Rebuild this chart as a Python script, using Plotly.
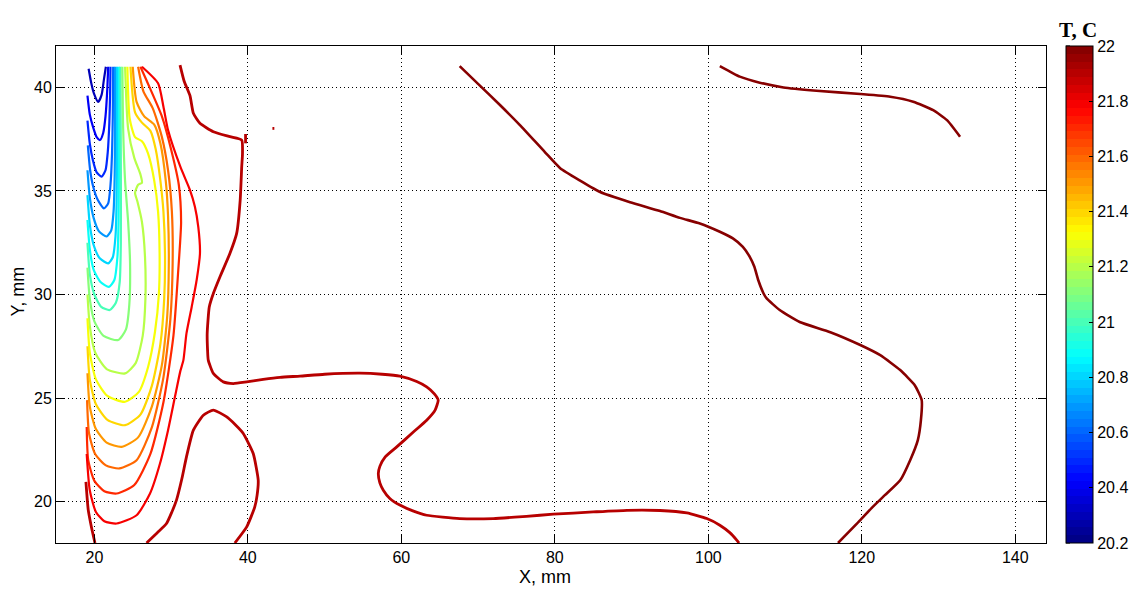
import plotly.graph_objects as go

# ---------------- data ----------------
CMIN, CMAX = 20.2, 22.0
cbar_ticks = [20.2, 20.4, 20.6, 20.8, 21.0, 21.2, 21.4, 21.6, 21.8, 22.0]
x_ticks = [20, 40, 60, 80, 100, 120, 140]
y_ticks = [20, 25, 30, 35, 40]

# isotherm levels (deg C) for the U-shaped contours around the cold spot
u_levels = [20.3, 20.4, 20.5, 20.6, 20.7, 20.8, 20.9, 21.0, 21.1, 21.2, 21.3, 21.4, 21.5, 21.6, 21.7, 21.8]

u01_x = [19.25, 19.6, 19.95, 20.5, 20.95, 21.25, 21.5]
u01_y = [40.9, 40.2, 39.7, 39.3, 39.65, 40.4, 41.0]
u02_x = [19.1, 19.4, 19.86, 20.3, 20.73, 21.15, 21.45, 21.68, 21.8]
u02_y = [39.6, 38.7, 38.05, 37.6, 37.46, 37.8, 38.6, 39.9, 41.0]
u03_x = [19.1, 19.4, 19.8, 20.3, 20.95, 21.45, 21.75, 21.95, 22.05, 22.1]
u03_y = [38.4, 37.3, 36.5, 35.9, 35.69, 36.0, 36.9, 38.3, 39.7, 41.0]
u04_x = [19.15, 19.45, 19.85, 20.4, 21.25, 21.8, 22.1, 22.3, 22.4, 22.45]
u04_y = [37.2, 36.0, 35.2, 34.6, 34.16, 34.4, 35.3, 36.8, 38.6, 41.0]
u05_x = [19.1, 19.4, 19.9, 20.6, 21.6, 22.2, 22.5, 22.65, 22.7, 22.7]
u05_y = [36.0, 34.7, 33.7, 33.05, 32.8, 33.1, 34.0, 35.8, 38.0, 41.0]
u06_x = [19.1, 19.4, 19.9, 20.7, 21.8, 22.4, 22.75, 22.9, 22.95, 22.95]
u06_y = [34.8, 33.4, 32.4, 31.75, 31.5, 31.8, 32.8, 34.5, 37.0, 41.0]
u07_x = [19.1, 19.4, 19.9, 20.8, 21.9, 22.6, 23.0, 23.15, 23.2, 23.2]
u07_y = [33.6, 32.2, 31.2, 30.6, 30.37, 30.7, 31.8, 33.5, 36.5, 41.0]
u08_x = [19.1, 19.4, 20.0, 20.9, 22.0, 22.8, 23.3, 23.45, 23.45, 23.4]
u08_y = [32.5, 31.0, 30.0, 29.4, 29.25, 29.6, 30.6, 32.5, 36.0, 41.0]
u09_x = [19.1, 19.4, 20.0, 21.2, 23.1, 24.1, 24.55, 24.65, 24.4, 24.0, 23.75, 23.65]
u09_y = [31.3, 29.8, 28.7, 28.0, 27.8, 28.3, 29.5, 31.5, 33.5, 35.5, 38.0, 41.0]
u10_x = [19.1, 19.4, 20.1, 21.6, 24.0, 25.4, 26.3, 26.65, 26.6, 26.2, 25.6, 25.3, 25.7, 26.2, 26.0, 25.2, 24.4, 24.0]
u10_y = [30.0, 28.5, 27.2, 26.4, 26.19, 26.7, 28.0, 29.8, 31.8, 33.5, 34.5, 34.9, 35.3, 35.4, 35.8, 36.6, 38.0, 41.0]
u11_x = [19.1, 19.4, 20.2, 21.7, 24.0, 25.8, 27.0, 27.9, 28.4, 28.5, 28.3, 27.8, 27.0, 26.2, 25.3, 24.6, 24.3]
u11_y = [28.85, 27.2, 25.9, 25.1, 24.82, 25.3, 26.5, 28.2, 30.0, 32.0, 34.0, 35.5, 36.8, 37.4, 37.6, 38.5, 41.0]
u12_x = [19.1, 19.4, 20.2, 21.7, 24.0, 26.0, 27.5, 28.6, 29.1, 29.2, 29.0, 28.6, 28.0, 27.3, 26.2, 25.3, 24.7]
u12_y = [27.5, 25.9, 24.7, 23.95, 23.69, 24.2, 25.6, 27.6, 29.8, 32.0, 34.0, 35.5, 37.0, 37.9, 38.3, 38.8, 41.0]
u13_x = [19.1, 19.4, 20.2, 21.6, 23.56, 25.7, 27.5, 28.8, 29.5, 29.7, 29.6, 29.3, 28.6, 27.8, 26.5, 25.5, 25.0]
u13_y = [26.2, 24.6, 23.5, 22.85, 22.64, 23.1, 24.6, 26.6, 29.0, 31.5, 33.8, 35.5, 37.3, 38.2, 38.6, 39.3, 41.0]
u14_x = [19.05, 19.3, 20.1, 21.5, 23.25, 25.5, 27.5, 29.0, 29.9, 30.2, 30.1, 29.6, 28.8, 27.6, 26.4, 25.7]
u14_y = [24.9, 23.3, 22.3, 21.75, 21.6, 22.0, 23.6, 26.0, 28.8, 31.5, 34.0, 36.0, 37.6, 39.0, 39.8, 41.0]
u15_x = [19.0, 19.2, 20.0, 21.3, 22.9, 25.2, 27.3, 29.0, 30.3, 30.9, 31.3, 31.0, 30.0, 28.8, 27.2, 26.0]
u15_y = [23.6, 22.0, 21.0, 20.5, 20.39, 20.8, 22.3, 24.8, 28.0, 31.0, 33.5, 35.3, 37.0, 38.6, 40.0, 41.0]
u16_x = [19.0, 19.4, 20.2, 21.3, 22.9, 25.5, 27.25, 28.55, 29.6, 30.5, 31.2, 31.6, 32.0, 32.68, 33.33,
         33.76, 33.54, 33.1, 32.46, 31.2, 29.6, 29.0, 28.3, 26.2]
u16_y = [22.3, 20.55, 19.5, 19.05, 18.94, 19.34, 20.39, 21.84, 23.45, 25.06, 26.3, 26.83, 28.12, 29.4, 30.7,
         31.99, 33.27, 34.24, 35.04, 36.17, 37.94, 39.07, 40.2, 41.0]

# 21.9 C isotherm pieces
dr_left_x = [18.9, 19.2, 19.6, 20.08]
dr_left_y = [20.95, 19.6, 18.8, 18.0]
dr_bump_x = [26.8, 28.2, 29.4, 30.1, 30.7, 31.4, 32.0, 32.9, 34.2, 35.5, 37.2, 38.4, 39.4, 40.7, 41.35, 41.2, 40.9, 39.85, 38.3]
dr_bump_y = [18.0, 18.5, 18.94, 19.5, 20.07, 21.1, 22.16, 23.45, 24.17, 24.42, 24.1, 23.7, 23.29, 22.32, 21.03, 20.3, 19.74, 18.78, 18.0]
dr_big_x = [31.16, 31.7, 32.46, 32.9, 33.76, 35.5, 37.67, 39.2, 39.3, 39.2, 39.0, 38.54, 37.67, 36.37, 35.5, 34.97,
            34.7, 34.75, 34.84, 35.5, 36.8, 38.1, 39.85, 42.0, 44.2, 46.8, 50.0, 54.6, 57.5, 59.8, 62.0, 63.3, 64.3,
            64.8, 64.4, 63.3, 61.6, 59.4, 57.9, 57.2, 57.0, 57.2, 57.65, 58.5, 59.8, 61.5, 63.3, 67.6, 72.0, 76.3,
            79.8, 85.0, 89.4, 93.7, 97.2, 99.8, 101.5, 102.8, 103.7, 104.0]
dr_big_y = [41.08, 40.3, 39.6, 38.75, 38.27, 37.86, 37.62, 37.46, 36.8, 36.17, 34.56, 32.95, 31.99, 30.86, 30.05, 29.4,
            28.12, 27.3, 26.83, 26.19, 25.78, 25.7, 25.78, 25.9, 26.0, 26.06, 26.15, 26.2, 26.15, 26.06, 25.8, 25.54, 25.2,
            24.9, 24.42, 23.93, 23.37, 22.64, 22.16, 21.7, 21.36, 20.9, 20.55, 20.15, 19.83, 19.55, 19.34, 19.18, 19.18, 19.29,
            19.39, 19.5, 19.58, 19.57, 19.45, 19.18, 18.86, 18.5, 18.14, 18.0]
dr_tick_x = [39.7, 39.7]
dr_tick_y = [37.3, 37.75]
dr_dot_x = [43.2, 43.45]
dr_dot_y = [38.02, 38.02]

# 22.0 C isotherm pieces (right part of the field)
r1_x = [67.6, 70.2, 72.85, 75.45, 78.7, 80.7, 83.3, 85.9, 89.8, 93.7, 96.3, 98.9, 101.5, 103.2, 104.5, 105.4, 106.0,
        106.5, 107.2, 107.6, 109.3, 111.9, 115.9, 119.8, 122.4, 125.0, 126.9, 127.8, 127.7, 127.3, 126.3, 125.0, 123.0,
        121.3, 119.8, 116.9]
r1_y = [41.03, 40.1, 39.15, 38.18, 36.88, 36.1, 35.5, 34.95, 34.46, 34.03, 33.7, 33.43, 33.03, 32.71, 32.3, 31.82, 31.34,
        30.7, 30.05, 29.81, 29.25, 28.67, 28.18, 27.56, 27.07, 26.35, 25.62, 24.9, 23.93, 22.97, 22.0, 21.03, 20.31,
        19.7, 19.1, 18.0]
r2_x = [101.5, 104.1, 106.7, 109.8, 114.1, 119.8, 123.7, 126.7, 129.3, 131.1, 132.8]
r2_y = [41.03, 40.52, 40.23, 40.0, 39.84, 39.68, 39.55, 39.31, 38.9, 38.42, 37.62]

# ---------------- styling helpers ----------------
NCOL = 64
FONT = "Liberation Sans"
CB_X = (1066 - 56) / 990          # left edge of the colour bar, in plot-area fractions
CB_TICK = 4 / 990                 # colour-bar tick length in plot-area fractions


def jet(f):
    def c(v):
        return max(0.0, min(1.0, v))
    r = c(1.5 - abs(4 * f - 3))
    g = c(1.5 - abs(4 * f - 2))
    b = c(1.5 - abs(4 * f - 1))
    return f"rgb({round(r*255)},{round(g*255)},{round(b*255)})"


def level_color(v):
    idx = int((v - CMIN) / (CMAX - CMIN) * NCOL + 1e-9)
    idx = max(0, min(NCOL - 1, idx))
    return jet((idx + 0.5) / NCOL)


colorscale = []
for i in range(NCOL):
    col = jet((i + 0.5) / NCOL)
    colorscale.append([i / NCOL, col])
    colorscale.append([(i + 1) / NCOL, col])

fig = go.Figure()

u_lines = [(u01_x, u01_y), (u02_x, u02_y), (u03_x, u03_y), (u04_x, u04_y), (u05_x, u05_y), (u06_x, u06_y),
           (u07_x, u07_y), (u08_x, u08_y), (u09_x, u09_y), (u10_x, u10_y), (u11_x, u11_y), (u12_x, u12_y),
           (u13_x, u13_y), (u14_x, u14_y), (u15_x, u15_y), (u16_x, u16_y)]
for lev, (xs, ys) in zip(u_levels, u_lines):
    fig.add_trace(go.Scatter(x=xs, y=ys, mode="lines",
                             line=dict(color=level_color(lev), width=2.2, shape="spline", smoothing=0.6),
                             hoverinfo="skip", showlegend=False))

for xs, ys in [(dr_left_x, dr_left_y), (dr_bump_x, dr_bump_y), (dr_big_x, dr_big_y),
               (dr_tick_x, dr_tick_y), (dr_dot_x, dr_dot_y)]:
    fig.add_trace(go.Scatter(x=xs, y=ys, mode="lines",
                             line=dict(color=level_color(21.9), width=2.8, shape="spline", smoothing=0.5),
                             hoverinfo="skip", showlegend=False))

for xs, ys in [(r1_x, r1_y), (r2_x, r2_y)]:
    fig.add_trace(go.Scatter(x=xs, y=ys, mode="lines",
                             line=dict(color=level_color(22.0), width=2.6, shape="spline", smoothing=0.5),
                             hoverinfo="skip", showlegend=False))

# colour bar carrier
fig.add_trace(go.Scatter(
    x=[None], y=[None], mode="markers", hoverinfo="skip", showlegend=False,
    marker=dict(color=[CMIN], cmin=CMIN, cmax=CMAX, colorscale=colorscale, showscale=True,
                colorbar=dict(x=CB_X, xanchor="left", xpad=0, y=0.5, yanchor="middle",
                              len=1, lenmode="fraction", ypad=0, thickness=27, thicknessmode="pixels",
                              outlinewidth=1, outlinecolor="black", borderwidth=0,
                              tickvals=cbar_ticks, ticks="inside", ticklen=4, tickcolor="black",
                              tickfont=dict(family=FONT, size=16, color="black")))))

# ticks on the left edge of the colour bar (MATLAB draws them on both edges)
cb_shapes = [dict(type="line", xref="paper", yref="paper", x0=CB_X, x1=CB_X + CB_TICK,
                  y0=(v - CMIN) / (CMAX - CMIN), y1=(v - CMIN) / (CMAX - CMIN),
                  line=dict(color="black", width=1)) for v in cbar_ticks]

axis_common = dict(showline=True, linecolor="black", linewidth=1, mirror="ticks", ticks="inside", ticklen=8,
                   tickcolor="black", showgrid=True, gridcolor="black", gridwidth=1, griddash="1px,3px",
                   zeroline=False, tickfont=dict(family=FONT, size=16, color="black"))

fig.update_layout(
    width=1138, height=591,
    margin=dict(l=56, r=92, t=46, b=48, pad=0, autoexpand=False),
    paper_bgcolor="white", plot_bgcolor="white",
    xaxis=dict(range=[15, 144], tickvals=x_ticks, **axis_common),
    yaxis=dict(range=[18, 42], tickvals=y_ticks, **axis_common),
    shapes=cb_shapes,
    annotations=[
        dict(text="X, mm", x=(545 - 56) / 990, y=(543 - 577) / 497, xref="paper", yref="paper",
             showarrow=False, xanchor="center", yanchor="middle", font=dict(family=FONT, size=18, color="black")),
        dict(text="Y, mm", x=(17.5 - 56) / 990, y=(543 - 292) / 497, xref="paper", yref="paper", textangle=-90,
             showarrow=False, xanchor="center", yanchor="middle", font=dict(family=FONT, size=18, color="black")),
        dict(text="<b>T, C</b>", x=(1078 - 56) / 990, y=(543 - 30) / 497, xref="paper", yref="paper",
             showarrow=False, xanchor="center", yanchor="middle",
             font=dict(family="Liberation Serif", size=21, color="black")),
    ],
)

fig.write_html("out.html", config={"displayModeBar": False},
               post_script="document.body.style.margin='0px';document.body.style.overflow='hidden';")
